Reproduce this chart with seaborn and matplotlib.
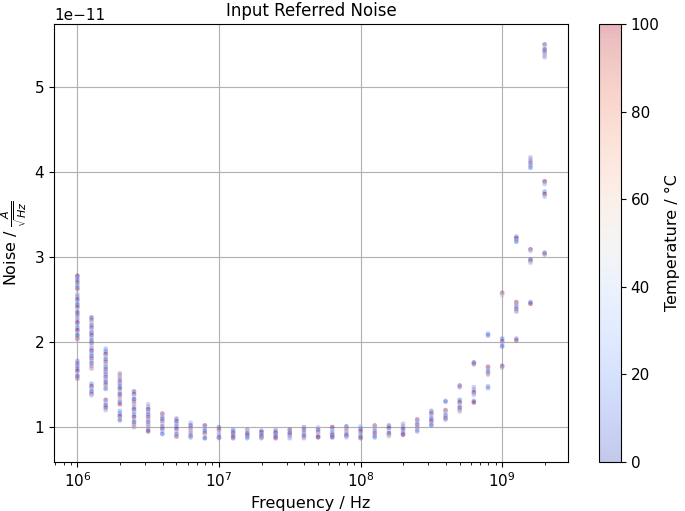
import numpy as np
import pandas as pd
import matplotlib
matplotlib.use("Agg")
import matplotlib.pyplot as plt
import seaborn as sns
from matplotlib.colors import ListedColormap, Normalize
from matplotlib.cm import ScalarMappable

# ---------------- data (noise in units of 1e-11 A/sqrt(Hz)) ----------------
freqs_hz = [1.0e6, 1.259e6, 1.585e6, 1.995e6, 2.512e6, 3.162e6, 3.981e6, 5.012e6, 6.310e6, 7.943e6,
            1.0e7, 1.259e7, 1.585e7, 1.995e7, 2.512e7, 3.162e7, 3.981e7, 5.012e7, 6.310e7, 7.943e7,
            1.0e8, 1.259e8, 1.585e8, 1.995e8, 2.512e8, 3.162e8, 3.981e8, 5.012e8, 6.310e8, 7.943e8,
            1.0e9, 1.259e9, 1.585e9, 1.995e9]

noise_columns = [
    [2.78, 2.76, 2.73, 2.70, 2.67, 2.64, 2.62, 2.56, 2.53, 2.50, 2.47, 2.44, 2.41, 2.38, 2.35, 2.32,
     2.29, 2.26, 2.23, 2.20, 2.17, 2.14, 2.11, 2.08, 2.05, 2.03,
     1.78, 1.75, 1.72, 1.69, 1.66, 1.63, 1.60, 1.57],
    [2.29, 2.26, 2.23, 2.20, 2.17, 2.14, 2.11, 2.08, 2.05, 2.02, 1.99, 1.96, 1.93, 1.90, 1.87, 1.84,
     1.81, 1.78, 1.75, 1.72, 1.69,
     1.51, 1.48, 1.45, 1.42, 1.39, 1.37],
    [1.92, 1.89, 1.86, 1.83, 1.80, 1.77, 1.74, 1.71, 1.68, 1.65, 1.62, 1.59, 1.56, 1.53, 1.50, 1.47, 1.45,
     1.32, 1.29, 1.26, 1.23, 1.20],
    [1.63, 1.60, 1.57, 1.54, 1.51, 1.48, 1.45, 1.42, 1.39, 1.36, 1.33, 1.30, 1.27,
     1.19, 1.16, 1.13, 1.10, 1.08],
    [1.42, 1.39, 1.36, 1.33, 1.30, 1.27, 1.24, 1.21, 1.18, 1.15, 1.12, 1.09, 1.06, 1.03, 1.00],
    [1.27, 1.24, 1.21, 1.18, 1.15, 1.12, 1.09, 1.06, 1.03, 1.00, 0.97, 0.95],
    [1.16, 1.13, 1.10, 1.07, 1.04, 1.01, 0.98, 0.95, 0.92],
    [1.10, 1.07, 1.04, 1.01, 0.98, 0.95, 0.92, 0.89],
    [1.05, 1.02, 0.99, 0.96, 0.93, 0.90, 0.88],
    [1.02, 0.99, 0.96, 0.93, 0.90, 0.87],
    [1.00, 0.97, 0.94, 0.91, 0.88, 0.87],
    [0.97, 0.95, 0.93, 0.91, 0.89, 0.87],
    [0.97, 0.95, 0.93, 0.91, 0.89, 0.87],
    [0.96, 0.94, 0.92, 0.90, 0.88, 0.87],
    [0.97, 0.95, 0.93, 0.91, 0.89, 0.87],
    [0.97, 0.95, 0.93, 0.91, 0.89, 0.87],
    [1.00, 0.97, 0.94, 0.91, 0.89, 0.87],
    [1.00, 0.97, 0.94, 0.91, 0.89, 0.88],
    [1.00, 0.97, 0.94, 0.91, 0.89, 0.88],
    [1.01, 0.98, 0.95, 0.92, 0.90, 0.88],
    [1.01, 0.98, 0.95, 0.92, 0.89, 0.87],
    [1.02, 0.99, 0.96, 0.93, 0.90, 0.88],
    [1.02, 0.99, 0.96, 0.93, 0.91, 0.89],
    [1.04, 1.01, 0.98, 0.95, 0.93, 0.91],
    [1.09, 1.06, 1.03, 1.00, 0.97, 0.95],
    [1.19, 1.16, 1.13, 1.10, 1.07, 1.04, 1.02],
    [1.31, 1.30, 1.20, 1.17, 1.14, 1.11, 1.09],
    [1.49, 1.47, 1.32, 1.29, 1.26, 1.23, 1.20, 1.18],
    [1.76, 1.74, 1.47, 1.44, 1.41, 1.38, 1.31, 1.29],
    [2.10, 2.08, 1.71, 1.68, 1.65, 1.62, 1.48, 1.46],
    [2.58, 2.55, 2.04, 2.01, 1.98, 1.95, 1.72, 1.70],
    [3.24, 3.22, 3.20, 3.18, 2.47, 2.45, 2.42, 2.39, 2.36, 2.04, 2.02],
    [4.17, 4.14, 4.11, 4.08, 4.05, 3.09, 3.07, 2.97, 2.95, 2.93, 2.47, 2.45],
    [5.50, 5.47, 5.44, 5.41, 5.38, 5.35, 3.89, 3.86, 3.77, 3.74, 3.71, 3.05, 3.03],
]

# temperatures (deg C) of the two sweeps overlaid at every point, assigned in turn
temps_cold = [0, 10, 5, 20, 0, 15, 25]
temps_mixed = [100, 0, 30, 90, 10, 60, 100, 20, 45]
noise_scale = 1e-11

# ---------------- build table ----------------
rows = []
for i, (f, col) in enumerate(zip(freqs_hz, noise_columns)):
    for j, v in enumerate(col):
        rows.append((f, v * noise_scale, temps_cold[(i + j) % len(temps_cold)]))
        rows.append((f, v * noise_scale, temps_mixed[(i + 2 * j) % len(temps_mixed)]))
df = pd.DataFrame(rows, columns=["freq", "noise", "temp"])

# ---------------- plot ----------------
fig = plt.figure(figsize=(6.85, 5.11), dpi=100)
ax = fig.add_axes([54 / 685, 49 / 511, 514 / 685, 438 / 511])
cax = fig.add_axes([599 / 685, 49 / 511, 22 / 685, 438 / 511])

sns.scatterplot(data=df, x="freq", y="noise", hue="temp", palette="coolwarm",
                hue_norm=(0, 100), s=11, alpha=0.3, linewidth=0, legend=False, ax=ax)
ax.set_xscale("log")
ax.set_ylim(0.59e-11, 5.74e-11)
ax.grid(True, which="major", color="#b0b0b0", linewidth=0.8)
ax.set_axisbelow(True)
ax.set_title("Input Referred Noise", fontsize=12)
ax.set_xlabel("Frequency / Hz", fontsize=11.5)
ax.set_ylabel(r"Noise / $\frac{A}{\sqrt{Hz}}$", fontsize=11.5)
ax.tick_params(labelsize=11)
ax.yaxis.get_offset_text().set_fontsize(11)

base = plt.get_cmap("coolwarm")(np.linspace(0, 1, 256))
base[:, 3] = 0.3
cmap_alpha = ListedColormap(base)
sm = ScalarMappable(norm=Normalize(0, 100), cmap=cmap_alpha)
cb = fig.colorbar(sm, cax=cax)
cb.set_label("Temperature / °C", fontsize=11.5)
cb.set_ticks([0, 20, 40, 60, 80, 100])
cb.ax.tick_params(labelsize=11)

fig.savefig("out.png", dpi=100)
